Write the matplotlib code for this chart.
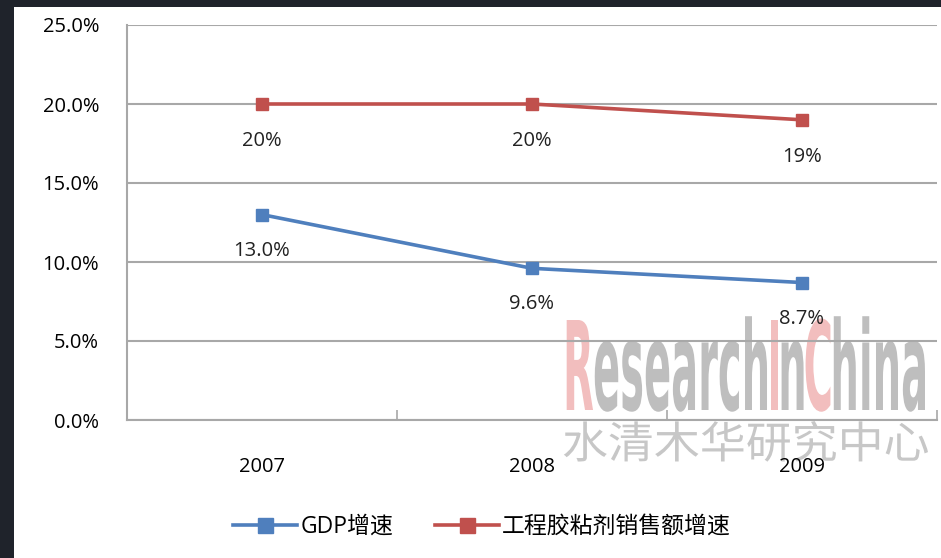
import matplotlib
matplotlib.use("Agg")
import matplotlib.pyplot as plt
from matplotlib.patches import Rectangle, PathPatch
from matplotlib.textpath import TextPath
from matplotlib.font_manager import FontProperties
from matplotlib.transforms import Affine2D
from matplotlib.ticker import FixedLocator, FuncFormatter

plt.rcParams["font.family"] = ["Open Sans", "Noto Sans CJK SC", "DejaVu Sans"]

# ---------------------------------- data ----------------------------------- #
years = ["2007", "2008", "2009"]
gdp_growth = [13.0, 9.6, 8.7]
adhesive_growth = [20.0, 20.0, 19.0]
gdp_labels = ["13.0%", "9.6%", "8.7%"]
adhesive_labels = ["20%", "20%", "19%"]
series_names = ["GDP增速", "工程胶粘剂销售额增速"]
y_ticks = [0, 5, 10, 15, 20, 25]

BLUE = "#4f7fbd"
RED = "#c0504d"
GRID = "#a8a8a8"

W, H = 941, 558
fig = plt.figure(figsize=(W / 100, H / 100), dpi=100, facecolor="#1f232b")

# pixel-space background layer (white card + watermark)
bg = fig.add_axes([0, 0, 1, 1], zorder=0)
bg.set_xlim(0, W); bg.set_ylim(H, 0); bg.axis("off")
bg.add_patch(Rectangle((14, 7), W - 14, H - 7, facecolor="white", edgecolor="none"))


def stretched_text(ax, parts, x0, baseline, cap_h, total_w, prop, alpha=0.75):
    """Draw text segments as paths, scaled to a given cap height / total width."""
    paths = [TextPath((0, 0), s, prop=prop, size=100) for s, _ in parts]
    widths = [p.get_extents().x1 for p in paths]
    ref = TextPath((0, 0), "H", prop=prop, size=100).get_extents().height
    sy = cap_h / ref
    sx = total_w / sum(widths)
    x = x0
    for p, w, (_, color) in zip(paths, widths, parts):
        tr = Affine2D().scale(sx, -sy).translate(x, baseline)
        ax.add_patch(PathPatch(tr.transform_path(p), facecolor=color,
                               edgecolor="none", alpha=alpha))
        x += w * sx


pink, grey = "#eea8a8", "#a9a9a9"
stretched_text(bg, [("R", pink), ("esearch", grey), ("I", pink), ("n", grey),
                    ("C", pink), ("hina", grey)],
               563, 410, 90, 362, FontProperties(family="DejaVu Sans", weight="bold"))
stretched_text(bg, [("水清木华研究中心", grey)], 562, 458, 32, 366,
               FontProperties(family="Noto Sans CJK SC"), alpha=0.65)

# ---------------------------------- chart ---------------------------------- #
ax = fig.add_axes([127 / W, 1 - 420 / H, 810 / W, 395 / H], zorder=1)
ax.set_facecolor("none")
x = list(range(len(years)))
ax.plot(x, gdp_growth, color=BLUE, lw=2.6, marker="s", ms=9, label=series_names[0])
ax.plot(x, adhesive_growth, color=RED, lw=2.6, marker="s", ms=9, label=series_names[1])
for xi, v, t in zip(x, gdp_growth, gdp_labels):
    ax.annotate(t, (xi, v), xytext=(0, -26), textcoords="offset points",
                ha="center", va="center", fontsize=14.5, color="#222222")
for xi, v, t in zip(x, adhesive_growth, adhesive_labels):
    ax.annotate(t, (xi, v), xytext=(0, -27), textcoords="offset points",
                ha="center", va="center", fontsize=14.5, color="#222222")

ax.set_xlim(-0.5, len(years) - 0.5)
ax.set_ylim(0, 25)
ax.yaxis.set_major_locator(FixedLocator(y_ticks))
ax.yaxis.set_major_formatter(FuncFormatter(lambda v, _: f"{v:.1f}%"))
ax.grid(axis="y", color=GRID, lw=1.5)
ax.set_axisbelow(True)
ax.set_xticks(x)
ax.set_xticklabels(years)
ax.set_xticks([i - 0.5 for i in range(len(years) + 1)], minor=True)
ax.tick_params(axis="x", which="major", length=0, pad=27, labelsize=14.5)
ax.tick_params(axis="x", which="minor", direction="in", length=7, color=GRID, width=1.2)
ax.tick_params(axis="y", length=0, pad=20, labelsize=14.5)
for name in ["top", "right"]:
    ax.spines[name].set_visible(False)
for name in ["left", "bottom"]:
    ax.spines[name].set_color(GRID)
    ax.spines[name].set_linewidth(1.5)

fig.legend(loc="center", bbox_to_anchor=(482 / W, 1 - 527 / H), ncol=2,
           frameon=False, fontsize=16.5, handlelength=2.8, columnspacing=1.8,
           handletextpad=0.15, markerscale=1.2)

fig.savefig("out.png", dpi=100, facecolor=fig.get_facecolor())
